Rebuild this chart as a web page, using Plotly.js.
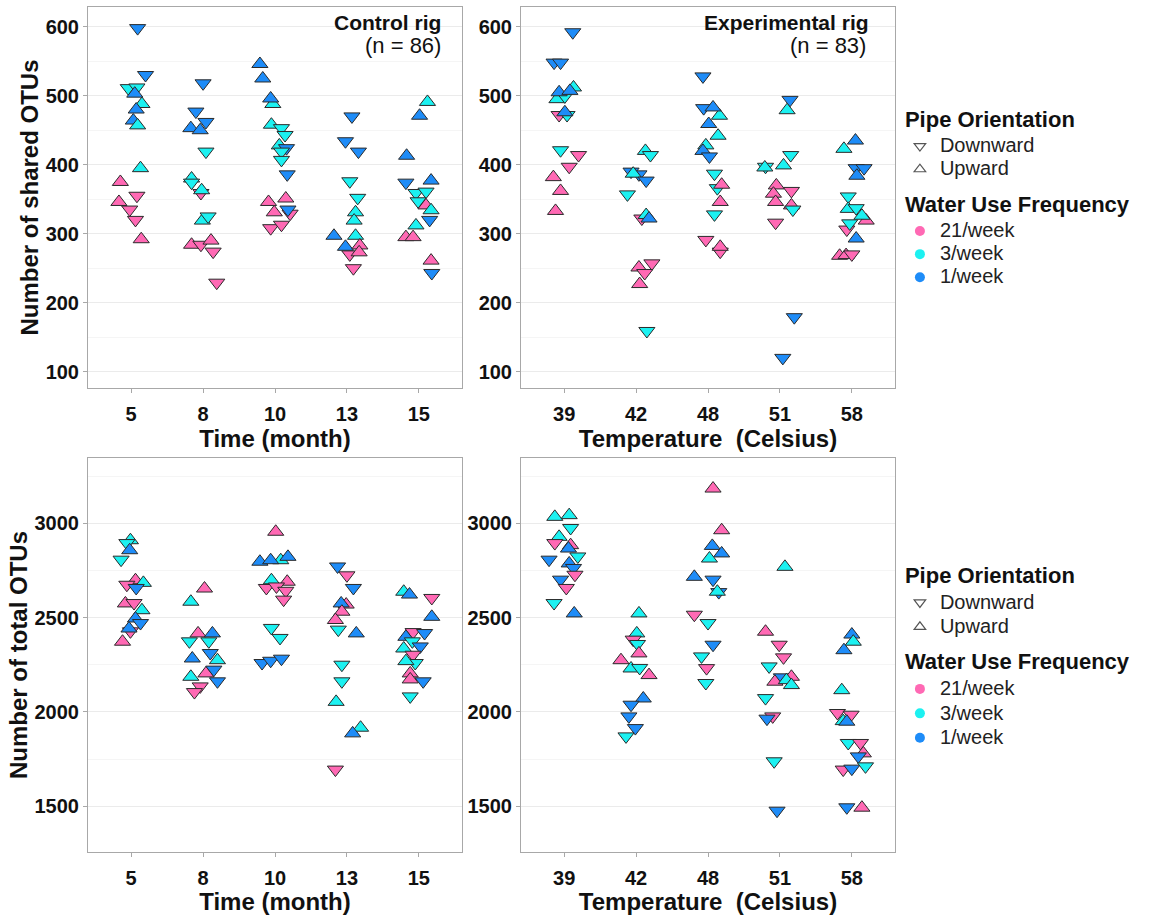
<!DOCTYPE html>
<html><head><meta charset="utf-8">
<script src="https://cdn.plot.ly/plotly-3.0.1.min.js"></script>
<style>html,body{margin:0;padding:0;background:#fff}#chart{width:1171px;height:915px}</style>
</head><body><div id="chart"></div>
<script>
// ---- categories / levels ----
const timeLabels = ['5','8','10','13','15'];
const tempLabels = ['39','42','48','51','58'];
const freqLevels = ['21/week','3/week','1/week'];
const pipeLevels = ['Downward','Upward'];

// ---- data rows: [category, jitter, value, frequency(21|3|1), pipe(D|U)] ----
const controlShared = [
 ['5',0.09,598,1,'D'],['5',0.20,530,1,'D'],['5',-0.04,511,3,'D'],['5',0.08,512,3,'D'],['5',0.05,503,1,'U'],
 ['5',0.15,488,3,'U'],['5',0.07,480,1,'U'],['5',0.03,464,1,'U'],['5',0.09,457,3,'U'],['5',0.13,395,3,'U'],
 ['5',-0.15,375,21,'U'],['5',0.08,355,21,'D'],['5',-0.17,346,21,'U'],['5',-0.02,335,21,'D'],['5',0.06,320,21,'D'],['5',0.14,292,21,'U'],
 ['8',0.00,518,1,'D'],['8',-0.10,477,1,'D'],['8',-0.17,453,1,'U'],['8',0.04,462,1,'D'],['8',-0.04,450,1,'U'],
 ['8',0.04,419,3,'D'],['8',-0.16,380,3,'U'],['8',-0.16,374,3,'D'],['8',-0.03,359,21,'D'],['8',-0.02,363,3,'U'],
 ['8',-0.01,319,3,'U'],['8',0.07,325,3,'D'],['8',-0.16,284,21,'U'],['8',-0.03,284,21,'D'],['8',0.11,290,21,'U'],
 ['8',0.14,274,21,'D'],['8',0.19,229,21,'D'],
 ['10',-0.21,546,1,'U'],['10',-0.17,525,1,'U'],['10',-0.03,488,3,'U'],['10',-0.06,496,1,'U'],['10',-0.05,458,3,'U'],
 ['10',0.09,453,3,'D'],['10',0.14,443,3,'D'],['10',0.06,428,3,'U'],['10',0.16,424,1,'D'],['10',0.09,419,3,'D'],
 ['10',0.09,407,3,'D'],['10',0.17,386,1,'D'],['10',-0.09,346,21,'U'],['10',0.15,351,21,'U'],['10',-0.01,331,21,'U'],
 ['10',0.21,329,21,'D'],['10',0.18,335,1,'D'],['10',-0.06,308,21,'D'],['10',0.09,313,21,'D'],
 ['13',0.07,470,1,'D'],['13',-0.02,434,1,'D'],['13',0.16,419,1,'D'],['13',0.04,376,3,'D'],['13',0.15,352,3,'D'],
 ['13',0.12,331,3,'U'],['13',0.10,319,3,'U'],['13',0.12,297,3,'U'],['13',-0.18,297,1,'U'],['13',0.04,270,21,'D'],
 ['13',-0.02,281,1,'U'],['13',0.18,283,21,'U'],['13',0.17,273,21,'U'],['13',0.09,250,21,'D'],
 ['15',0.12,491,3,'U'],['15',0.01,471,1,'U'],['15',-0.17,413,1,'U'],['15',-0.18,374,1,'D'],['15',0.17,377,1,'U'],
 ['15',-0.04,359,3,'D'],['15',0.10,361,3,'D'],['15',-0.01,347,3,'D'],['15',0.10,341,21,'U'],['15',0.17,334,3,'U'],
 ['15',0.15,320,1,'D'],['15',-0.04,312,3,'U'],['15',-0.18,295,21,'U'],['15',-0.08,295,21,'U'],['15',0.17,261,21,'U'],
 ['15',0.18,243,1,'D']
];
const experimentalShared = [
 ['39',0.12,592,1,'D'],['39',-0.14,548,1,'D'],['39',-0.05,548,1,'D'],['39',0.13,512,3,'U'],['39',-0.10,495,3,'U'],
 ['39',0.01,499,3,'D'],['39',-0.07,505,1,'U'],['39',0.08,507,1,'U'],['39',-0.07,472,21,'D'],['39',0.04,472,3,'D'],
 ['39',0.01,476,1,'U'],['39',-0.05,421,3,'D'],['39',0.20,414,21,'D'],['39',0.07,397,21,'D'],['39',-0.15,382,21,'U'],
 ['39',-0.05,362,21,'U'],['39',-0.12,333,21,'U'],
 ['42',0.13,420,3,'U'],['42',0.20,414,3,'D'],['42',-0.07,390,1,'D'],['42',0.04,386,1,'D'],['42',-0.04,387,3,'U'],
 ['42',0.14,377,1,'D'],['42',-0.12,357,3,'D'],['42',0.08,322,21,'D'],['42',0.14,327,3,'U'],['42',0.18,322,1,'U'],
 ['42',0.04,251,21,'U'],['42',0.22,257,21,'D'],['42',0.12,243,21,'D'],['42',0.05,227,21,'U'],['42',0.15,159,3,'D'],
 ['48',-0.07,528,1,'D'],['48',-0.06,482,1,'D'],['48',0.16,471,3,'U'],['48',0.07,483,1,'U'],['48',0.01,459,1,'U'],
 ['48',0.14,442,3,'U'],['48',-0.03,428,3,'U'],['48',-0.07,420,1,'U'],['48',0.02,412,1,'D'],['48',0.09,387,3,'D'],
 ['48',0.13,366,3,'D'],['48',0.19,371,21,'U'],['48',0.17,346,21,'U'],['48',0.09,328,3,'D'],['48',-0.03,291,21,'D'],
 ['48',0.17,274,21,'D'],['48',0.17,281,21,'U'],
 ['51',0.14,494,1,'D'],['51',0.10,479,3,'U'],['51',-0.20,397,3,'D'],['51',-0.21,396,3,'U'],['51',0.05,399,3,'U'],
 ['51',0.15,414,3,'D'],['51',-0.05,370,21,'U'],['51',-0.09,358,21,'U'],['51',0.16,362,21,'D'],['51',-0.06,346,21,'U'],
 ['51',0.16,341,21,'U'],['51',0.18,335,3,'D'],['51',-0.06,316,21,'D'],['51',0.20,179,1,'D'],['51',0.04,120,1,'D'],
 ['58',0.05,435,1,'U'],['58',-0.11,423,3,'U'],['58',0.06,395,1,'D'],['58',0.17,395,1,'D'],['58',0.07,384,1,'U'],
 ['58',-0.05,354,3,'D'],['58',-0.05,336,3,'U'],['58',0.06,337,3,'D'],['58',0.20,319,21,'U'],['58',0.14,326,3,'U'],
 ['58',-0.07,306,21,'D'],['58',-0.03,315,3,'D'],['58',0.06,293,1,'U'],['58',-0.17,268,21,'U'],['58',-0.08,269,21,'U'],
 ['58',0.00,270,21,'D']
];
const controlTotal = [
 ['5',-0.01,2910,3,'U'],['5',-0.06,2895,3,'D'],['5',-0.02,2857,1,'U'],['5',-0.14,2807,3,'D'],['5',0.06,2698,21,'U'],
 ['5',-0.06,2674,21,'D'],['5',0.17,2684,3,'U'],['5',0.07,2657,1,'D'],['5',-0.08,2575,21,'U'],['5',0.04,2577,21,'D'],
 ['5',0.15,2539,3,'U'],['5',0.06,2495,1,'U'],['5',0.13,2471,1,'D'],['5',-0.01,2427,21,'D'],['5',-0.03,2442,1,'U'],
 ['5',-0.12,2372,21,'U'],
 ['8',0.02,2654,21,'U'],['8',-0.17,2584,3,'U'],['8',-0.07,2416,21,'U'],['8',0.13,2416,1,'U'],['8',-0.19,2374,3,'D'],
 ['8',0.08,2374,3,'D'],['8',-0.15,2283,1,'U'],['8',0.10,2312,1,'D'],['8',0.20,2274,3,'U'],['8',0.04,2204,21,'U'],
 ['8',0.15,2224,1,'D'],['8',0.20,2162,1,'D'],['8',-0.17,2186,3,'U'],['8',-0.04,2135,21,'D'],['8',-0.12,2105,21,'D'],
 ['10',0.01,2955,21,'U'],['10',-0.21,2796,1,'U'],['10',0.08,2804,3,'U'],['10',-0.06,2804,1,'U'],['10',0.18,2822,1,'U'],
 ['10',-0.12,2657,21,'D'],['10',-0.05,2698,3,'U'],['10',0.17,2690,21,'U'],['10',0.02,2665,21,'D'],['10',0.15,2642,21,'D'],
 ['10',0.12,2595,21,'D'],['10',-0.05,2445,3,'D'],['10',0.07,2392,3,'D'],['10',-0.18,2259,1,'D'],['10',-0.06,2271,1,'D'],
 ['10',0.09,2282,1,'D'],
 ['13',-0.13,2771,1,'D'],['13',0.00,2724,21,'D'],['13',0.09,2657,1,'D'],['13',-0.01,2569,21,'U'],['13',-0.08,2575,1,'U'],
 ['13',-0.07,2531,21,'U'],['13',-0.16,2487,21,'U'],['13',-0.12,2436,3,'D'],['13',0.13,2416,1,'U'],['13',-0.07,2250,3,'D'],
 ['13',-0.07,2162,3,'D'],['13',-0.15,2053,3,'U'],['13',0.19,1916,3,'U'],['13',0.08,1886,1,'U'],['13',-0.16,1694,21,'D'],
 ['15',-0.21,2637,3,'U'],['15',-0.13,2622,1,'U'],['15',0.18,2604,21,'D'],['15',0.18,2504,1,'U'],['15',-0.08,2423,21,'D'],
 ['15',-0.18,2398,1,'U'],['15',0.08,2418,1,'D'],['15',-0.09,2374,3,'D'],['15',0.02,2347,1,'D'],['15',-0.21,2336,3,'U'],
 ['15',-0.08,2303,21,'D'],['15',-0.05,2259,3,'D'],['15',-0.18,2269,3,'U'],['15',-0.12,2204,21,'U'],['15',-0.12,2172,21,'U'],
 ['15',0.06,2162,1,'D'],['15',-0.12,2082,3,'D']
];
const experimentalTotal = [
 ['39',-0.13,3034,3,'U'],['39',0.07,3043,3,'U'],['39',0.09,2975,3,'D'],['39',-0.07,2928,3,'U'],['39',-0.13,2895,21,'D'],
 ['39',0.09,2884,21,'U'],['39',0.06,2866,1,'U'],['39',-0.21,2807,1,'D'],['39',0.19,2824,3,'D'],['39',0.07,2787,1,'U'],
 ['39',0.13,2763,1,'D'],['39',0.15,2727,21,'D'],['39',-0.05,2701,1,'D'],['39',0.03,2657,21,'D'],['39',-0.14,2577,3,'D'],
 ['39',0.14,2522,1,'U'],
 ['42',0.04,2522,3,'U'],['42',0.01,2416,3,'U'],['42',-0.04,2383,21,'D'],['42',0.02,2360,3,'D'],['42',0.04,2310,21,'U'],
 ['42',-0.21,2274,21,'U'],['42',-0.07,2230,3,'U'],['42',0.05,2233,3,'D'],['42',0.18,2195,21,'U'],['42',0.10,2071,1,'U'],
 ['42',-0.07,2038,1,'D'],['42',-0.10,1976,1,'D'],['42',-0.01,1914,1,'D'],['42',-0.14,1870,3,'D'],
 ['48',0.07,3184,21,'U'],['48',0.19,2963,21,'U'],['48',0.06,2880,1,'U'],['48',0.19,2840,1,'U'],['48',0.02,2813,3,'U'],
 ['48',-0.19,2716,1,'U'],['48',0.07,2701,1,'D'],['48',0.15,2635,1,'D'],['48',0.13,2637,3,'U'],['48',-0.19,2515,21,'D'],
 ['48',0.00,2471,3,'D'],['48',0.07,2356,1,'D'],['48',-0.09,2294,3,'D'],['48',-0.02,2232,21,'D'],['48',-0.03,2153,3,'D'],
 ['51',0.07,2769,3,'U'],['51',-0.20,2425,21,'U'],['51',-0.01,2356,21,'D'],['51',0.05,2289,21,'D'],['51',-0.15,2241,3,'D'],
 ['51',0.02,2183,1,'D'],['51',-0.07,2160,21,'U'],['51',0.16,2186,21,'U'],['51',0.09,2168,3,'U'],['51',0.16,2142,3,'U'],
 ['51',-0.20,2073,3,'D'],['51',-0.10,1976,21,'D'],['51',-0.18,1964,1,'D'],['51',-0.08,1738,3,'D'],['51',-0.04,1476,1,'D'],
 ['58',0.00,2410,1,'U'],['58',0.02,2372,3,'U'],['58',-0.11,2327,1,'U'],['58',-0.14,2115,3,'U'],['58',-0.20,1994,21,'D'],
 ['58',-0.01,1985,21,'D'],['58',-0.12,1951,3,'U'],['58',-0.07,1948,1,'U'],['58',-0.05,1835,3,'D'],['58',0.12,1835,21,'D'],
 ['58',0.16,1780,21,'U'],['58',0.09,1764,1,'D'],['58',-0.12,1694,21,'D'],['58',0.00,1699,1,'D'],['58',0.19,1711,3,'D'],
 ['58',-0.07,1494,1,'D'],['58',0.14,1492,21,'U']
];
const sharedTicks = [100,200,300,400,500,600];
const totalTicks = [1500,2000,2500,3000];

// ---- styles ----
const FONT = 'Arial, "Liberation Sans", sans-serif';
const colorOf = {21:'#FF69B4', 3:'#1CF1F1', 1:'#1E8CF8'};
const freqKey = {'21/week':21,'3/week':3,'1/week':1};
const symbolOf = {D:'triangle-down', U:'triangle-up'};

function panelTrace(rows, labels, xa, ya){
  return {
    type:'scatter', mode:'markers', xaxis:xa, yaxis:ya, showlegend:false, hoverinfo:'skip',
    x: rows.map(r => labels.indexOf(r[0]) + 1 + r[1]),
    y: rows.map(r => r[2]),
    marker:{size:14, color: rows.map(r => colorOf[r[3]]), symbol: rows.map(r => symbolOf[r[4]]),
            line:{color:'#2a2a2a', width:1}, opacity:1}
  };
}

const traces = [
  panelTrace(controlShared, timeLabels, 'x', 'y'),
  panelTrace(experimentalShared, tempLabels, 'x2', 'y2'),
  panelTrace(controlTotal, timeLabels, 'x3', 'y3'),
  panelTrace(experimentalTotal, tempLabels, 'x4', 'y4')
];

const itemLabel = s => '<span style="font-size:20px">' + s + '</span>';
['legend','legend2'].forEach(lg => {
  pipeLevels.forEach((p,i) => traces.push({
    type:'scatter', mode:'markers', x:[null], y:[null], xaxis:'x', yaxis:'y', legend:lg,
    name:itemLabel(p), legendgroup:lg+'pipe',
    legendgrouptitle: i===0 ? {text:'Pipe Orientation', font:{family:FONT, size:22, weight:'bold', color:'#111'}} : undefined,
    marker:{symbol: p==='Downward' ? 'triangle-down-open' : 'triangle-up-open', size:10, color:'#555', line:{width:1.2, color:'#555'}}
  }));
  freqLevels.forEach((f,i) => traces.push({
    type:'scatter', mode:'markers', x:[null], y:[null], xaxis:'x', yaxis:'y', legend:lg,
    name:itemLabel(f), legendgroup:lg+'freq',
    legendgrouptitle: i===0 ? {text:'Water Use Frequency', font:{family:FONT, size:22, weight:'bold', color:'#111'}} : undefined,
    marker:{symbol:'circle', size:10, color:colorOf[freqKey[f]]}
  }));
});

function xAxis(domain, labels, title, anchor){
  return {domain, anchor, range:[0.4,5.6], tickmode:'array', tickvals:[1,2,3,4,5], ticktext:labels,
    showgrid:false, zeroline:false, showline:true, mirror:true, linecolor:'#a8a8a8', linewidth:1,
    ticks:'outside', ticklen:4, tickcolor:'#a8a8a8', ticklabelstandoff:4,
    tickfont:{family:FONT, size:20, weight:'bold', color:'#111'},
    title:{text:title, font:{family:FONT, size:24, weight:'bold', color:'#111'}, standoff:4}, fixedrange:true};
}
function yAxis(domain, range, ticks, title, anchor, minorStep){
  return {domain, anchor, range, tickmode:'array', tickvals:ticks, ticktext:ticks.map(String),
    showgrid:true, gridcolor:'#ebebeb', gridwidth:1, zeroline:false, showline:true, mirror:true,
    linecolor:'#a8a8a8', linewidth:1, ticks:'outside', ticklen:4, tickcolor:'#a8a8a8',
    minor:{dtick:minorStep, tick0:0, showgrid:true, gridcolor:'#f5f5f5', gridwidth:1, ticks:''},
    tickfont:{family:FONT, size:20, weight:'bold', color:'#111'},
    title: title ? {text:title, font:{family:FONT, size:24, weight:'bold', color:'#111'}, standoff:0} : {text:''},
    fixedrange:true};
}

const dxL = [0.07515, 0.39453], dxR = [0.44492, 0.76430];
const dyT = [0.5760, 0.99235], dyB = [0.06885, 0.49945];

const layout = {
  width:1171, height:915, margin:{l:0,r:0,t:0,b:0}, paper_bgcolor:'#fff', plot_bgcolor:'#fff',
  font:{family:FONT, color:'#111'},
  xaxis: xAxis(dxL, timeLabels, 'Time (month)', 'y'),
  xaxis2: xAxis(dxR, tempLabels, 'Temperature  (Celsius)', 'y2'),
  xaxis3: xAxis(dxL, timeLabels, 'Time (month)', 'y3'),
  xaxis4: xAxis(dxR, tempLabels, 'Temperature  (Celsius)', 'y4'),
  yaxis: yAxis(dyT, [76.4, 628.6], sharedTicks, 'Number of shared OTUs', 'x', 50),
  yaxis2: yAxis(dyT, [76.4, 628.6], sharedTicks, '', 'x2', 50),
  yaxis3: yAxis(dyB, [1257, 3346], totalTicks, 'Number of total OTUs', 'x3', 250),
  yaxis4: yAxis(dyB, [1257, 3346], totalTicks, '', 'x4', 250),
  showlegend:true,
  legend:{x:0.7685, xanchor:'left', y:0.893, yanchor:'top', traceorder:'grouped', tracegroupgap:7,
    font:{family:FONT, size:15.5, color:'#222'}, bgcolor:'rgba(0,0,0,0)', itemclick:false, itemdoubleclick:false},
  legend2:{x:0.7685, xanchor:'left', y:0.395, yanchor:'top', traceorder:'grouped', tracegroupgap:6,
    font:{family:FONT, size:16.5, color:'#222'}, bgcolor:'rgba(0,0,0,0)', itemclick:false, itemdoubleclick:false},
  annotations:[
    {xref:'x domain', yref:'y domain', x:0.949, y:0.96, xanchor:'right', yanchor:'middle', showarrow:false,
     text:'Control rig', font:{family:FONT, size:21, weight:'bold', color:'#111'}},
    {xref:'x domain', yref:'y domain', x:0.949, y:0.898, xanchor:'right', yanchor:'middle', showarrow:false,
     text:'(n = 86)', font:{family:FONT, size:22, color:'#111'}},
    {xref:'x2 domain', yref:'y2 domain', x:0.935, y:0.96, xanchor:'right', yanchor:'middle', showarrow:false,
     text:'Experimental rig', font:{family:FONT, size:21, weight:'bold', color:'#111'}},
    {xref:'x2 domain', yref:'y2 domain', x:0.928, y:0.898, xanchor:'right', yanchor:'middle', showarrow:false,
     text:'(n = 83)', font:{family:FONT, size:22, color:'#111'}}
  ]
};

Plotly.newPlot('chart', traces, layout, {displayModeBar:false, staticPlot:false, responsive:false});
</script></body></html>
